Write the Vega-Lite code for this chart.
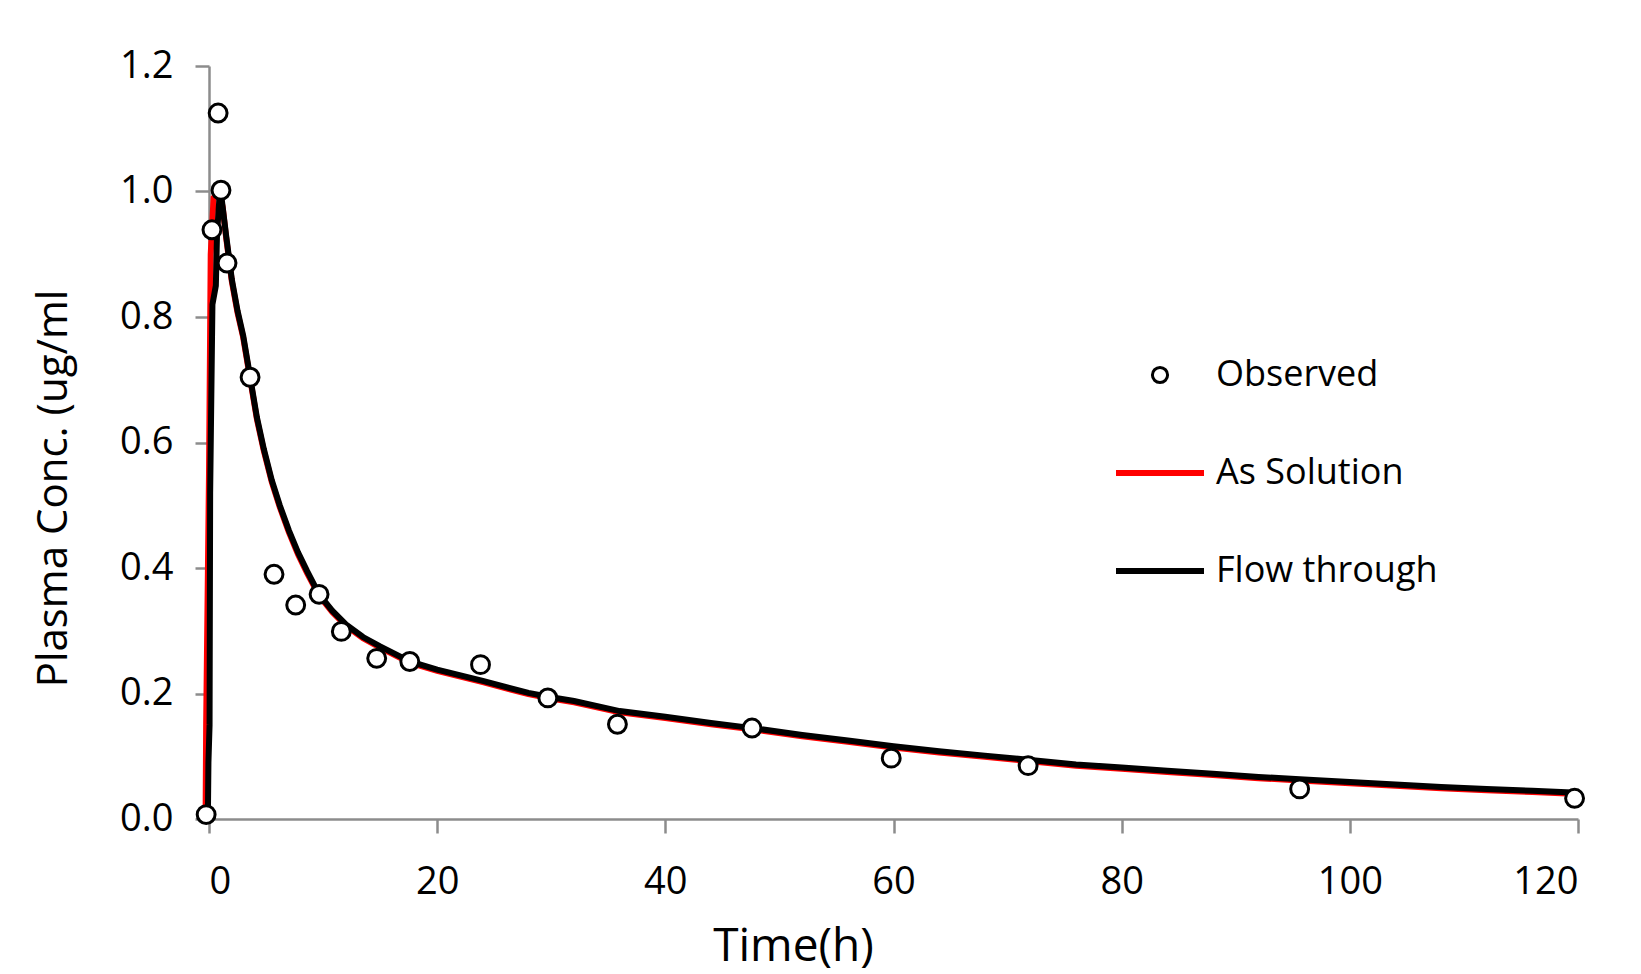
{
  "$schema": "https://vega.github.io/schema/vega-lite/v6.json",
  "width": 1369,
  "height": 753,
  "autosize": {"type": "none"},
  "padding": {"left": 209, "top": 66, "right": 63, "bottom": 155},
  "background": "white",
  "config": {
    "view": {"stroke": null},
    "font": "Open Sans",
    "axis": {
      "domainColor": "#8c8c8c",
      "domainWidth": 2.5,
      "tickColor": "#8c8c8c",
      "tickWidth": 2.5,
      "tickSize": 14,
      "grid": false,
      "labelFont": "Open Sans",
      "labelFontSize": 38,
      "labelColor": "black",
      "titleFont": "Open Sans",
      "titleFontWeight": "normal",
      "titleColor": "black"
    }
  },
  "datasets": {
    "curves": [
      {"series": "As Solution", "t": -0.3, "c": 0.0},
      {"series": "As Solution", "t": -0.25, "c": 0.15},
      {"series": "As Solution", "t": 0.0, "c": 0.55},
      {"series": "As Solution", "t": 0.15, "c": 0.9},
      {"series": "As Solution", "t": 0.4, "c": 0.99},
      {"series": "As Solution", "t": 0.9, "c": 1.0},
      {"series": "As Solution", "t": 1.2, "c": 0.975},
      {"series": "As Solution", "t": 1.5, "c": 0.927},
      {"series": "As Solution", "t": 2.0, "c": 0.857},
      {"series": "As Solution", "t": 2.5, "c": 0.807},
      {"series": "As Solution", "t": 3.0, "c": 0.767},
      {"series": "As Solution", "t": 3.6, "c": 0.702},
      {"series": "As Solution", "t": 4.2, "c": 0.637},
      {"series": "As Solution", "t": 4.8, "c": 0.587},
      {"series": "As Solution", "t": 5.5, "c": 0.537},
      {"series": "As Solution", "t": 6.2, "c": 0.497},
      {"series": "As Solution", "t": 7.0, "c": 0.457},
      {"series": "As Solution", "t": 7.8, "c": 0.422},
      {"series": "As Solution", "t": 8.6, "c": 0.392},
      {"series": "As Solution", "t": 9.65, "c": 0.356},
      {"series": "As Solution", "t": 10.8, "c": 0.33},
      {"series": "As Solution", "t": 12, "c": 0.308},
      {"series": "As Solution", "t": 13.5, "c": 0.288},
      {"series": "As Solution", "t": 15, "c": 0.273},
      {"series": "As Solution", "t": 17.6, "c": 0.249},
      {"series": "As Solution", "t": 20, "c": 0.236},
      {"series": "As Solution", "t": 24, "c": 0.218},
      {"series": "As Solution", "t": 28, "c": 0.199},
      {"series": "As Solution", "t": 30, "c": 0.192},
      {"series": "As Solution", "t": 32, "c": 0.186},
      {"series": "As Solution", "t": 36, "c": 0.17},
      {"series": "As Solution", "t": 40, "c": 0.161},
      {"series": "As Solution", "t": 44, "c": 0.151},
      {"series": "As Solution", "t": 48, "c": 0.142},
      {"series": "As Solution", "t": 52, "c": 0.132},
      {"series": "As Solution", "t": 56, "c": 0.123},
      {"series": "As Solution", "t": 60, "c": 0.114},
      {"series": "As Solution", "t": 64, "c": 0.106},
      {"series": "As Solution", "t": 68, "c": 0.099},
      {"series": "As Solution", "t": 72, "c": 0.092},
      {"series": "As Solution", "t": 76, "c": 0.085},
      {"series": "As Solution", "t": 80, "c": 0.08},
      {"series": "As Solution", "t": 84, "c": 0.075},
      {"series": "As Solution", "t": 88, "c": 0.07},
      {"series": "As Solution", "t": 92, "c": 0.065},
      {"series": "As Solution", "t": 96, "c": 0.061},
      {"series": "As Solution", "t": 100, "c": 0.057},
      {"series": "As Solution", "t": 104, "c": 0.053},
      {"series": "As Solution", "t": 108, "c": 0.049},
      {"series": "As Solution", "t": 112, "c": 0.046},
      {"series": "As Solution", "t": 116, "c": 0.043},
      {"series": "As Solution", "t": 120, "c": 0.04},
      {"series": "Flow through", "t": -0.1, "c": 0.0},
      {"series": "Flow through", "t": -0.05, "c": 0.09},
      {"series": "Flow through", "t": 0.05, "c": 0.15},
      {"series": "Flow through", "t": 0.1, "c": 0.52},
      {"series": "Flow through", "t": 0.3, "c": 0.82},
      {"series": "Flow through", "t": 0.6, "c": 0.85},
      {"series": "Flow through", "t": 0.7, "c": 0.93},
      {"series": "Flow through", "t": 0.95, "c": 1.0},
      {"series": "Flow through", "t": 1.1, "c": 0.99},
      {"series": "Flow through", "t": 1.5, "c": 0.93},
      {"series": "Flow through", "t": 2.0, "c": 0.86},
      {"series": "Flow through", "t": 2.5, "c": 0.81},
      {"series": "Flow through", "t": 3.0, "c": 0.77},
      {"series": "Flow through", "t": 3.6, "c": 0.705},
      {"series": "Flow through", "t": 4.2, "c": 0.64},
      {"series": "Flow through", "t": 4.8, "c": 0.59},
      {"series": "Flow through", "t": 5.5, "c": 0.54},
      {"series": "Flow through", "t": 6.2, "c": 0.5},
      {"series": "Flow through", "t": 7.0, "c": 0.46},
      {"series": "Flow through", "t": 7.8, "c": 0.425},
      {"series": "Flow through", "t": 8.6, "c": 0.395},
      {"series": "Flow through", "t": 9.65, "c": 0.358},
      {"series": "Flow through", "t": 10.8, "c": 0.332},
      {"series": "Flow through", "t": 12, "c": 0.31},
      {"series": "Flow through", "t": 13.5, "c": 0.29},
      {"series": "Flow through", "t": 15, "c": 0.275},
      {"series": "Flow through", "t": 17.6, "c": 0.251},
      {"series": "Flow through", "t": 20, "c": 0.238},
      {"series": "Flow through", "t": 24, "c": 0.22},
      {"series": "Flow through", "t": 28, "c": 0.201},
      {"series": "Flow through", "t": 30, "c": 0.194},
      {"series": "Flow through", "t": 32, "c": 0.188},
      {"series": "Flow through", "t": 36, "c": 0.172},
      {"series": "Flow through", "t": 40, "c": 0.163},
      {"series": "Flow through", "t": 44, "c": 0.153},
      {"series": "Flow through", "t": 48, "c": 0.144},
      {"series": "Flow through", "t": 52, "c": 0.134},
      {"series": "Flow through", "t": 56, "c": 0.125},
      {"series": "Flow through", "t": 60, "c": 0.116},
      {"series": "Flow through", "t": 64, "c": 0.108},
      {"series": "Flow through", "t": 68, "c": 0.101},
      {"series": "Flow through", "t": 72, "c": 0.094},
      {"series": "Flow through", "t": 76, "c": 0.087},
      {"series": "Flow through", "t": 80, "c": 0.082},
      {"series": "Flow through", "t": 84, "c": 0.077},
      {"series": "Flow through", "t": 88, "c": 0.072},
      {"series": "Flow through", "t": 92, "c": 0.067},
      {"series": "Flow through", "t": 96, "c": 0.063},
      {"series": "Flow through", "t": 100, "c": 0.059},
      {"series": "Flow through", "t": 104, "c": 0.055},
      {"series": "Flow through", "t": 108, "c": 0.051},
      {"series": "Flow through", "t": 112, "c": 0.048},
      {"series": "Flow through", "t": 116, "c": 0.045},
      {"series": "Flow through", "t": 120, "c": 0.042}
    ],
    "observed": [
      {"series": "Observed", "t": -0.25, "c": 0.007},
      {"series": "Observed", "t": 0.26, "c": 0.939},
      {"series": "Observed", "t": 0.8, "c": 1.125},
      {"series": "Observed", "t": 1.05, "c": 1.002},
      {"series": "Observed", "t": 1.58, "c": 0.886},
      {"series": "Observed", "t": 3.6, "c": 0.704},
      {"series": "Observed", "t": 5.7, "c": 0.39},
      {"series": "Observed", "t": 7.6, "c": 0.341},
      {"series": "Observed", "t": 9.65, "c": 0.358},
      {"series": "Observed", "t": 11.6, "c": 0.299},
      {"series": "Observed", "t": 14.7, "c": 0.256},
      {"series": "Observed", "t": 17.6, "c": 0.251},
      {"series": "Observed", "t": 23.8, "c": 0.246},
      {"series": "Observed", "t": 29.7, "c": 0.193},
      {"series": "Observed", "t": 35.8, "c": 0.151},
      {"series": "Observed", "t": 47.6, "c": 0.145},
      {"series": "Observed", "t": 59.8, "c": 0.097},
      {"series": "Observed", "t": 71.8, "c": 0.085},
      {"series": "Observed", "t": 95.6, "c": 0.048},
      {"series": "Observed", "t": 119.7, "c": 0.033}
    ]
  },
  "encoding": {
    "x": {
      "field": "t",
      "type": "quantitative",
      "scale": {"domain": [0, 120], "nice": false, "zero": false},
      "axis": {
        "values": [0, 20, 40, 60, 80, 100, 120],
        "labelPadding": 30,
        "title": "Time(h)",
        "titleFontSize": 46,
        "titleX": 584,
        "titleY": 141,
        "titleAlign": "center",
        "titleBaseline": "alphabetic"
      }
    },
    "y": {
      "field": "c",
      "type": "quantitative",
      "scale": {"domain": [0, 1.2], "nice": false},
      "axis": {
        "values": [0, 0.2, 0.4, 0.6, 0.8, 1.0, 1.2],
        "format": ".1f",
        "labelPadding": 22,
        "title": "Plasma Conc. (ug/ml",
        "titleFontSize": 42,
        "titleAngle": 270,
        "titleX": -143,
        "titleY": 422,
        "titleAlign": "center",
        "titleBaseline": "alphabetic"
      }
    }
  },
  "layer": [
    {
      "data": {"name": "curves"},
      "transform": [{"filter": "datum.series === 'As Solution'"}],
      "mark": {"type": "line", "strokeWidth": 6, "clip": false},
      "encoding": {
        "color": {
          "field": "series",
          "type": "nominal",
          "scale": {"domain": ["Observed", "As Solution", "Flow through"], "range": ["#000000", "#ff0000", "#000000"]},
          "legend": {
            "orient": "none",
            "legendX": 933,
            "legendY": 291,
            "title": null,
            "padding": 0,
            "symbolType": "stroke",
            "symbolSize": 7744,
            "symbolStrokeWidth": 6,
            "labelFont": "Open Sans",
            "labelFontSize": 36,
            "labelColor": "black",
            "labelOffset": 38,
            "labelLimit": 600,
            "rowPadding": 62,
            "encode": {
              "symbols": {
                "update": {
                  "shape": {"signal": "datum.value === 'Observed' ? 'circle' : 'stroke'"},
                  "size": {"signal": "datum.value === 'Observed' ? 230 : 7744"},
                  "fill": {"signal": "datum.value === 'Observed' ? '#ffffff' : 'transparent'"},
                  "stroke": {"signal": "datum.value === 'As Solution' ? '#ff0000' : '#000000'"},
                  "strokeWidth": {"signal": "datum.value === 'Observed' ? 3 : 6"},
                  "opacity": {"value": 1}
                }
              }
            }
          }
        }
      }
    },
    {
      "data": {"name": "curves"},
      "transform": [{"filter": "datum.series === 'Flow through'"}],
      "mark": {"type": "line", "strokeWidth": 6, "clip": false},
      "encoding": {
        "color": {"field": "series", "type": "nominal"}
      }
    },
    {
      "data": {"name": "observed"},
      "mark": {"type": "point", "shape": "circle", "size": 320, "filled": false, "fill": "white", "strokeWidth": 3, "opacity": 1, "fillOpacity": 1, "clip": false},
      "encoding": {
        "color": {"field": "series", "type": "nominal"}
      }
    }
  ]
}
